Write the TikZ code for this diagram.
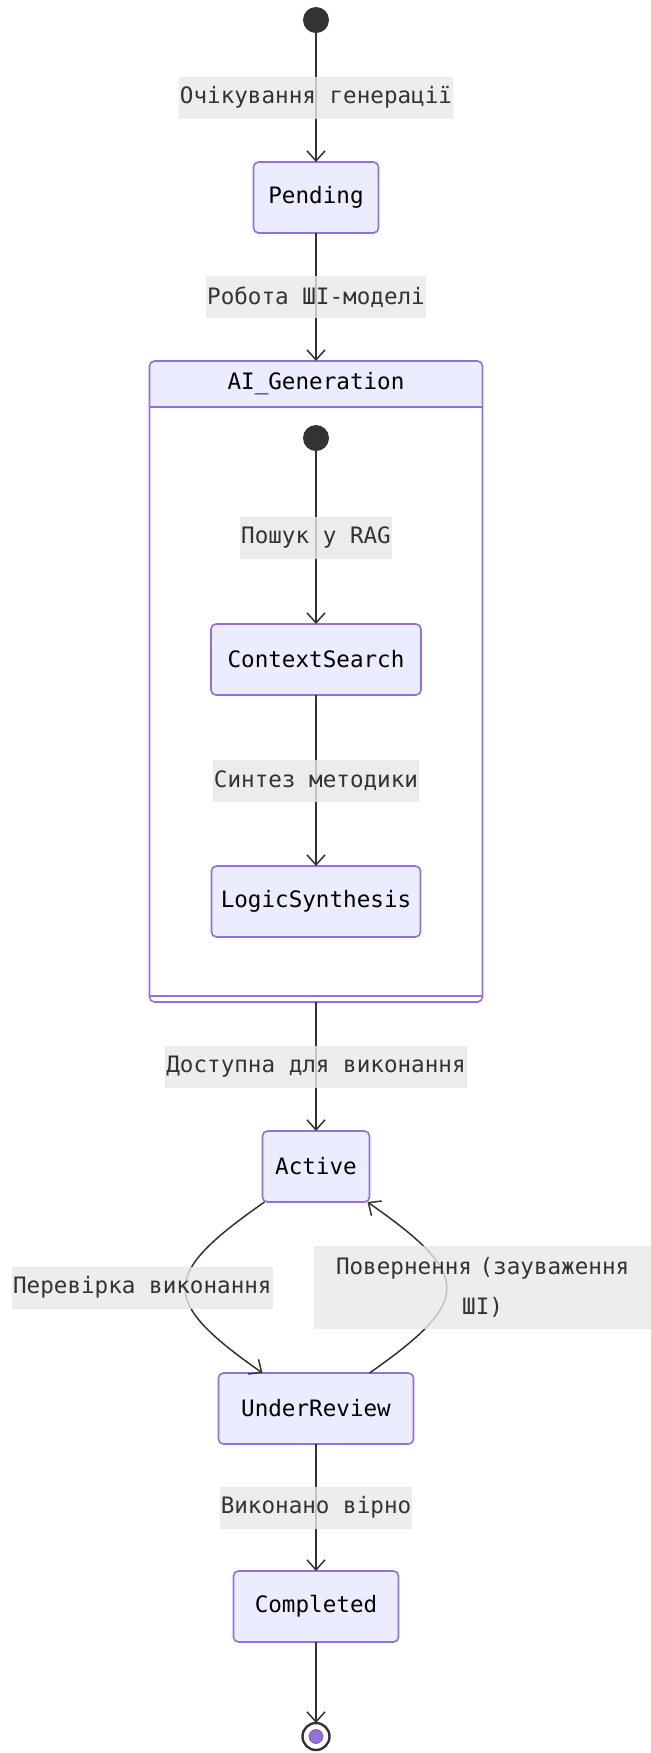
\documentclass[tikz,border=0pt]{standalone}
\usepackage{fontspec}
\setmonofont{DejaVu Sans Mono}
\usepackage{tikz}
\usetikzlibrary{arrows.meta,positioning,calc}
\definecolor{stline}{HTML}{333333}
\definecolor{stedge}{HTML}{9370DB}
\definecolor{stfill}{HTML}{ECECFF}
\definecolor{lblgray}{HTML}{E8E8E8}
\newcommand{\stfont}{\ttfamily\fontsize{11.3pt}{20pt}\selectfont}
\tikzset{
  state/.style={rectangle, rounded corners=2.5pt, draw=stedge, line width=0.8pt, fill=stfill,
                text=black, font=\stfont, outer sep=0pt, minimum height=35.5pt},
  compbox/.style={rectangle, rounded corners=2.5pt, draw=stedge, line width=0.8pt, fill=white,
                  outer sep=0pt, minimum width=166.5pt, minimum height=320.5pt,
                  path picture={\fill[stfill] (path picture bounding box.north west)
                    rectangle ([yshift=-23pt]path picture bounding box.north east);}},
  edgelbl/.style={fill=lblgray, fill opacity=0.8, text opacity=1, text=stline,
                  font=\stfont, inner xsep=0.5pt, minimum height=21pt},
  initdot/.style={circle, fill=stline, minimum size=13pt, inner sep=0pt, outer sep=0pt},
  endring/.style={circle, draw=stline, line width=1.2pt, fill=white, minimum size=13.5pt,
                  inner sep=0pt, outer sep=0pt},
  arr/.style={-{Straight Barb[length=5pt,width=9pt]}, line width=0.75pt, draw=stline},
}
\begin{document}
\begin{tikzpicture}[x=0.5pt, y=-0.5pt]
  \useasboundingbox (0,0) rectangle (651,1753);
  \node[initdot] (start) at (316,20) {};
  \node[state, minimum width=62.5pt, below=64.5pt of start] (pend) {Pending};
  % composite state
  \node[compbox, below=64pt of pend] (gen) {};
  \draw[stedge, line width=0.8pt] ([yshift=-23pt]gen.north west) -- ([yshift=-23pt]gen.north east);
  \draw[stedge, line width=0.8pt] ([yshift=3pt]gen.south west) -- ([yshift=3pt]gen.south east);
  \node[font=\stfont, text=black] (genttl) at ([yshift=-11.5pt]gen.north) {AI\_Generation};
  \node[initdot, below=32pt of gen.north] (istart) {};
  \node[state, minimum width=105pt, below=86.5pt of istart] (cs) {ContextSearch};
  \node[state, minimum width=104.5pt, below=85.5pt of cs] (ls) {LogicSynthesis};
  % after generation
  \node[state, minimum width=53.5pt, below=64.5pt of gen] (act) {Active};
  \node[state, minimum width=97.5pt, below=85.5pt of act] (ur) {UnderReview};
  \node[state, minimum width=82.5pt, below=63.5pt of ur] (comp) {Completed};
  \node[endring, below=40.5pt of comp] (stop) {};
  \node[circle, fill=stedge, draw=stedge!75!black, line width=0.3pt, minimum size=7pt, inner sep=0pt] (stopin) at (stop) {};

  \draw[arr] (start) -- node[edgelbl, midway] {Очікування генерації} (pend);
  \draw[arr] (pend) -- node[edgelbl, midway] {Робота ШІ-моделі} (gen);
  \draw[arr] (istart) -- node[edgelbl, midway] {Пошук у RAG} (cs);
  \draw[arr] (cs) -- node[edgelbl, midway] {Синтез методики} (ls);
  \draw[arr] (gen) -- node[edgelbl, midway] {Доступна для виконання} (act);
  \draw[arr] ([xshift=1pt]act.south west) to[out=215, in=145, looseness=1.9]
    node[edgelbl, pos=0.5, xshift=-21.5pt] {Перевірка виконання} ([xshift=22pt]ur.north west);
  \draw[arr] ([xshift=-22pt]ur.north east) to[out=35, in=-35, looseness=1.9]
    node[edgelbl, pos=0.5, xshift=18pt, text width=168pt, align=center, inner ysep=5.5pt]
    {Повернення (зауваження\\ШІ)} ([xshift=-1pt]act.south east);
  \draw[arr] (ur) -- node[edgelbl, midway] {Виконано вірно} (comp);
  \draw[arr] (comp) -- (stop);
\end{tikzpicture}
\end{document}
